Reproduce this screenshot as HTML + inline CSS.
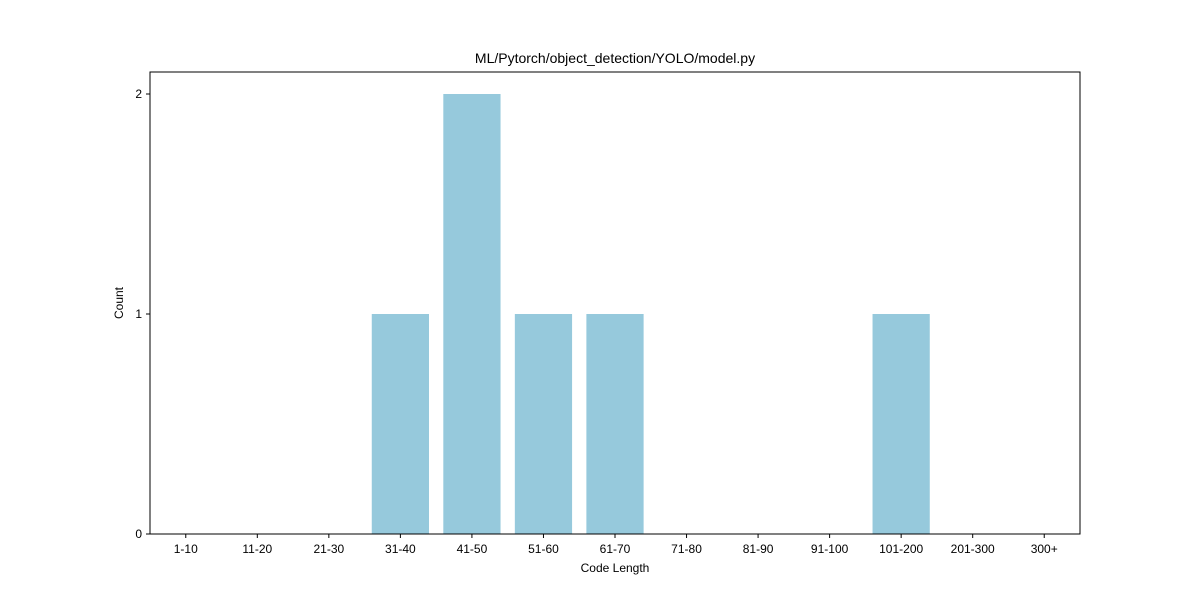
<!DOCTYPE html>
<html><head><meta charset="utf-8">
<style>
html,body{margin:0;padding:0;background:#fff;}
svg text{font-family:"Liberation Sans",sans-serif;fill:#000;}
</style></head>
<body>
<svg id="chart" width="1200" height="600" xmlns="http://www.w3.org/2000/svg">
<rect width="1200" height="600" fill="#fff"/>
<g id="bars"></g>
<rect x="150" y="72" width="930" height="462" fill="none" stroke="#000" stroke-width="1"/>
<g id="xticks"></g>
<g id="yticks"></g>
<text x="615" y="63" text-anchor="middle" font-size="14">ML/Pytorch/object_detection/YOLO/model.py</text>
<text x="615" y="572" text-anchor="middle" font-size="12">Code Length</text>
<text x="123" y="303" text-anchor="middle" font-size="12" transform="rotate(-90 123 303)">Count</text>
</svg>
<script>
const categories = ["1-10","11-20","21-30","31-40","41-50","51-60","61-70","71-80","81-90","91-100","101-200","201-300","300+"];
const counts = [0,0,0,1,2,1,1,0,0,0,1,0,0];
const yTicks = [0,1,2];

const NS="http://www.w3.org/2000/svg";
const L=150,R=1080,T=72,B=534;
const xMin=-0.5,xMax=categories.length-0.5,yMin=0,yMax=2.1;
const xs=v=>L+(v-xMin)/(xMax-xMin)*(R-L);
const ys=v=>B-(v-yMin)/(yMax-yMin)*(B-T);
function mk(tag,attrs,parent){const e=document.createElementNS(NS,tag);for(const k in attrs)e.setAttribute(k,attrs[k]);parent.appendChild(e);return e;}
const bars=document.getElementById('bars'),xt=document.getElementById('xticks'),yt=document.getElementById('yticks');
categories.forEach((c,i)=>{
  const x0=xs(i-0.4),x1=xs(i+0.4);
  const r=mk('rect',{x:x0,y:ys(counts[i]),width:x1-x0,height:ys(0)-ys(counts[i]),fill:'#96c9dc'},bars);
  
  
  const t=mk('line',{x1:xs(i),x2:xs(i),y1:B,y2:B+4,stroke:'#000'},xt);
  
  
  const tx=mk('text',{x:xs(i),y:B+19,'text-anchor':'middle','font-size':'12'},xt);
  tx.textContent=c;
  
  
});
yTicks.forEach(v=>{
  const t=mk('line',{x1:L-4,x2:L,y1:ys(v),y2:ys(v),stroke:'#000'},yt);
  
  
  const tx=mk('text',{x:L-8,y:ys(v)+4,'text-anchor':'end','font-size':'12'},yt);
  tx.textContent=v;
  
  
});
</script>
</body></html>
